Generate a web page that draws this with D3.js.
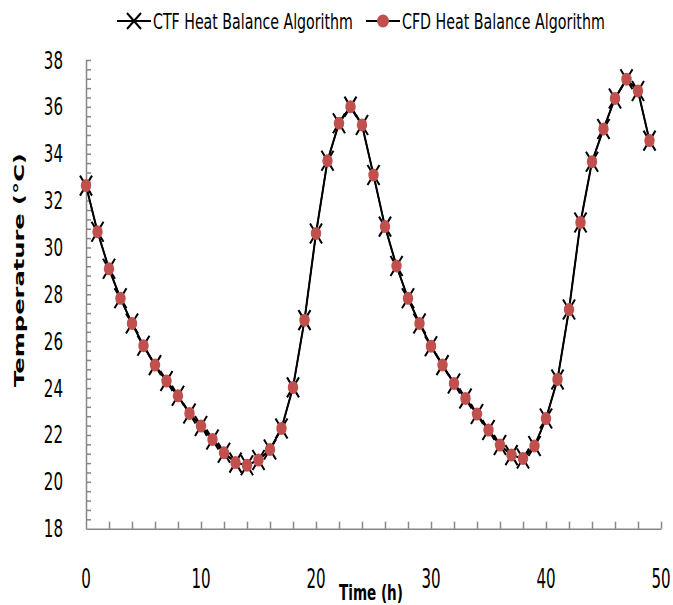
<!DOCTYPE html>
<meta charset="utf-8">
<style>
    body {
        margin: 0;
        overflow: hidden;
        background: #fff;
    }
    text {
        font-family: "Liberation Sans Narrow", "DejaVu Sans Condensed", sans-serif;
    }
</style>
<svg id="canvas" width="673" height="605"></svg>
<script src="https://d3js.org/d3.v7.min.js"></script>
<script>

    // hours 0..49
    var hours = [0, 1, 2, 3, 4, 5, 6, 7, 8, 9, 10, 11, 12, 13, 14, 15, 16, 17, 18, 19,
                 20, 21, 22, 23, 24, 25, 26, 27, 28, 29, 30, 31, 32, 33, 34, 35, 36, 37, 38, 39,
                 40, 41, 42, 43, 44, 45, 46, 47, 48, 49];

    var ctfTemp = [32.64, 30.67, 29.09, 27.83, 26.76, 25.81, 24.98, 24.30, 23.67, 22.92,
                   22.38, 21.81, 21.24, 20.82, 20.71, 20.93, 21.38, 22.28, 24.03, 26.90,
                   30.60, 33.70, 35.30, 36.01, 35.23, 33.09, 30.89, 29.21, 27.83, 26.76,
                   25.79, 24.98, 24.20, 23.56, 22.89, 22.21, 21.57, 21.14, 21.00, 21.53,
                   22.70, 24.37, 27.35, 31.07, 33.66, 35.06, 36.36, 37.18, 36.68, 34.56];

    var cfdTemp = [32.64, 30.67, 29.09, 27.83, 26.76, 25.81, 24.98, 24.30, 23.67, 22.92,
                   22.38, 21.81, 21.24, 20.82, 20.71, 20.93, 21.38, 22.28, 24.03, 26.90,
                   30.60, 33.70, 35.30, 36.01, 35.23, 33.09, 30.89, 29.21, 27.83, 26.76,
                   25.79, 24.98, 24.20, 23.56, 22.89, 22.21, 21.57, 21.14, 21.00, 21.53,
                   22.70, 24.37, 27.35, 31.07, 33.66, 35.06, 36.36, 37.18, 36.68, 34.56];

    var xTickLabels = [0, 10, 20, 30, 40, 50];
    var yTickLabels = [18, 20, 22, 24, 26, 28, 30, 32, 34, 36, 38];
    var seriesNames = ["CTF Heat Balance Algorithm", "CFD Heat Balance Algorithm"];

    var svg = d3.select("svg");
    var axisColor = "#868686",
        red = "#c0504d";

    var x = d3.scaleLinear().domain([0, 50]).range([86, 661]);
    var y = d3.scaleLinear().domain([18, 38]).range([528.7, 60]);

    // squeeze each text to the width it has in the (stretched) source picture
    function fit(sel, tx, ty, width) {
        sel.each(function(d) {
            var el = d3.select(this),
                w = this.getComputedTextLength(),
                target = typeof width === "function" ? width(d) : width,
                px = typeof tx === "function" ? tx(d) : tx,
                py = typeof ty === "function" ? ty(d) : ty;
            el.attr("transform", "translate(" + px + "," + py + ") scale(" + (target / w) + ",1)");
        });
    }

    // minor tick marks (inside)
    var xMinor = d3.range(1, 26).map(function(i) { return i * 2; });
    var yMinor = d3.range(1, 51).map(function(i) { return 18 + i * 0.4; });

    var gx = svg.append("g")
        .attr("transform", "translate(0," + y(18) + ")")
        .call(d3.axisBottom(x).tickValues(xMinor).tickSize(-7).tickSizeOuter(0).tickFormat(""));
    var gy = svg.append("g")
        .attr("transform", "translate(" + x(0) + ",0)")
        .call(d3.axisLeft(y).tickValues(yMinor).tickSize(-5).tickSizeOuter(0).tickFormat(""));
    [gx, gy].forEach(function(g) {
        g.selectAll("path, line").attr("stroke", axisColor).attr("stroke-width", 1.5);
    });

    function digitsWidth(d) { return String(d).length * 9.6; }

    // tick labels
    svg.append("g").selectAll("text")
        .data(xTickLabels)
        .enter().append("text")
        .attr("text-anchor", "middle")
        .attr("font-size", 26.5)
        .attr("fill", "#000")
        .text(function(d) { return d; })
        .call(fit, function(d) { return x(d); }, 588, digitsWidth);

    svg.append("g").selectAll("text")
        .data(yTickLabels)
        .enter().append("text")
        .attr("text-anchor", "end")
        .attr("font-size", 25)
        .attr("fill", "#000")
        .text(function(d) { return d; })
        .call(fit, 63, function(d) { return y(d) + 8.5; }, digitsWidth);

    // axis titles
    svg.append("text")
        .attr("font-size", 21.5)
        .attr("font-weight", "bold")
        .text("Time (h)")
        .call(fit, 339, 600, 64);

    var yTitle = svg.append("text")
        .attr("text-anchor", "middle")
        .style("font-family", "'DejaVu Sans', Verdana, sans-serif")
        .attr("font-size", 14)
        .attr("font-weight", "bold")
        .text("Temperature (\u00B0C)");
    var yTitleW = yTitle.node().getComputedTextLength();
    yTitle.attr("transform", "translate(24,270) rotate(-90) scale(" + (234 / yTitleW) + ",1)");

    // series
    var line = d3.line()
        .x(function(d) { return x(d[0]); })
        .y(function(d) { return y(d[1]); });

    var ctf = hours.map(function(h, i) { return [h, ctfTemp[i]]; });
    var cfd = hours.map(function(h, i) { return [h, cfdTemp[i]]; });

    var crossPath = "M-6,-10L6,10M-6,10L6,-10";

    svg.append("path")
        .datum(ctf)
        .attr("fill", "none")
        .attr("stroke", "#000")
        .attr("stroke-width", 2)
        .attr("d", line);

    svg.append("g").selectAll("path")
        .data(ctf)
        .enter().append("path")
        .attr("transform", function(d) { return "translate(" + x(d[0]) + "," + y(d[1]) + ")"; })
        .attr("d", crossPath)
        .attr("stroke", "#000")
        .attr("stroke-width", 2)
        .attr("fill", "none");

    svg.append("path")
        .datum(cfd)
        .attr("fill", "none")
        .attr("stroke", "#000")
        .attr("stroke-width", 1.5)
        .attr("d", line);

    svg.append("g").selectAll("ellipse")
        .data(cfd)
        .enter().append("ellipse")
        .attr("cx", function(d) { return x(d[0]); })
        .attr("cy", function(d) { return y(d[1]); })
        .attr("rx", 5.2)
        .attr("ry", 6.5)
        .attr("fill", red);

    // legend
    var legend = svg.append("g");
    legend.append("line").attr("x1", 117).attr("x2", 151).attr("y1", 21).attr("y2", 21)
        .attr("stroke", "#000").attr("stroke-width", 2);
    legend.append("path").attr("transform", "translate(134,21)")
        .attr("d", "M-7,-8L7,8M-7,8L7,-8").attr("stroke", "#000").attr("stroke-width", 2);
    legend.append("text")
        .attr("font-size", 21.5)
        .text(seriesNames[0])
        .call(fit, 153, 29, 200);

    legend.append("line").attr("x1", 366).attr("x2", 400).attr("y1", 21).attr("y2", 21)
        .attr("stroke", "#000").attr("stroke-width", 2);
    legend.append("ellipse").attr("cx", 383).attr("cy", 21).attr("rx", 6).attr("ry", 6.5)
        .attr("fill", red);
    legend.append("text")
        .attr("font-size", 21.5)
        .text(seriesNames[1])
        .call(fit, 402, 29, 203);

</script>
